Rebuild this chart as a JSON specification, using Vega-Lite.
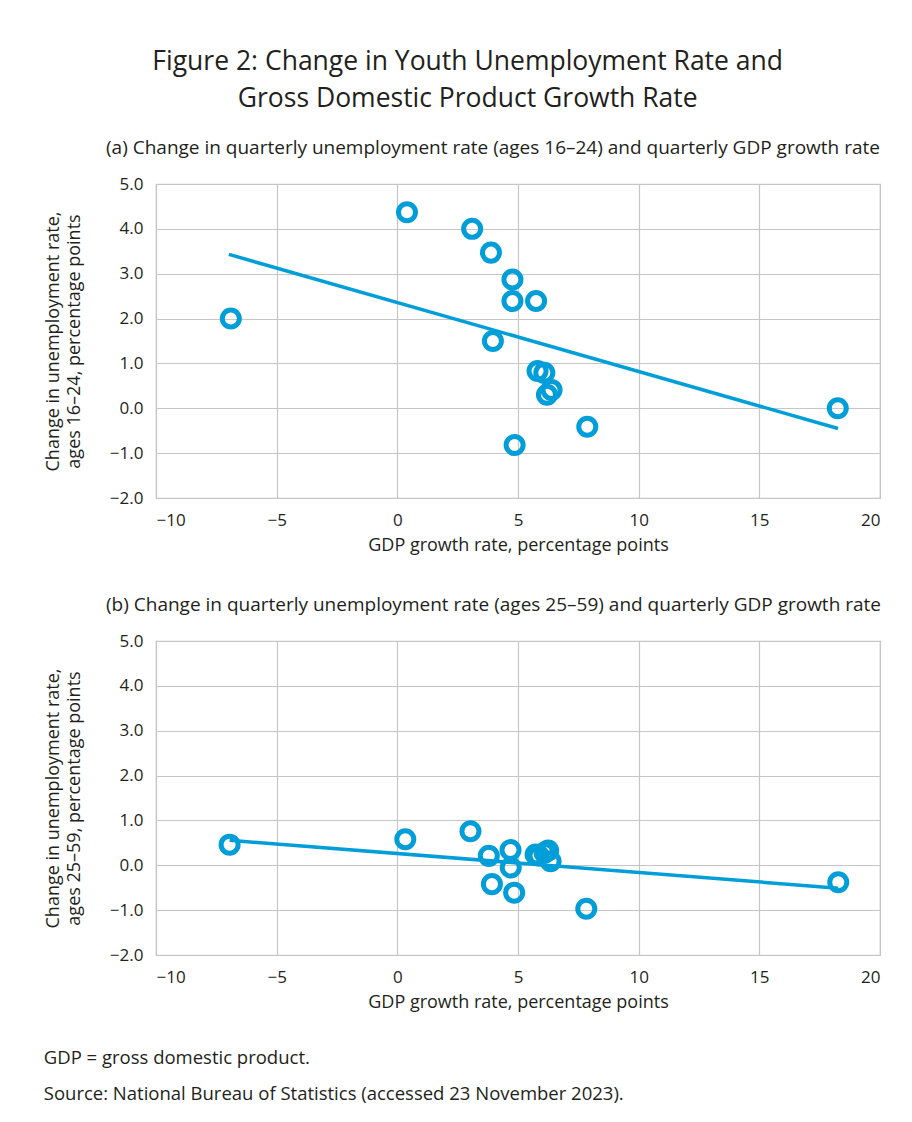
{
  "$schema": "https://vega.github.io/schema/vega-lite/v6.json",
  "padding": {"left": 43, "top": 48, "right": 10, "bottom": 10},
  "title": {
    "text": ["Figure 2: Change in Youth Unemployment Rate and", "Gross Domestic Product Growth Rate"],
    "fontSize": 26.5, "lineHeight": 37, "font": "Open Sans", "fontWeight": "normal",
    "anchor": "middle", "color": "#231F20", "offset": 26, "dx": 5
  },
  "datasets": {
    "youth": [
      {"gdp": -6.9, "chg": 2.0},
      {"gdp": 0.4, "chg": 4.37},
      {"gdp": 3.1, "chg": 4.0},
      {"gdp": 3.88, "chg": 3.47},
      {"gdp": 3.96, "chg": 1.5},
      {"gdp": 4.77, "chg": 2.87},
      {"gdp": 4.77, "chg": 2.39},
      {"gdp": 4.86, "chg": -0.82},
      {"gdp": 5.75, "chg": 2.39},
      {"gdp": 5.81, "chg": 0.83},
      {"gdp": 6.09, "chg": 0.79},
      {"gdp": 6.39, "chg": 0.41},
      {"gdp": 6.2, "chg": 0.3},
      {"gdp": 7.87, "chg": -0.41},
      {"gdp": 18.25, "chg": 0.0}
    ],
    "youthTrend": [
      {"gdp": -6.98, "chg": 3.43},
      {"gdp": 18.26, "chg": -0.45}
    ],
    "adult": [
      {"gdp": -6.95, "chg": 0.46},
      {"gdp": 0.33, "chg": 0.58},
      {"gdp": 3.03, "chg": 0.76},
      {"gdp": 3.79, "chg": 0.21},
      {"gdp": 3.92, "chg": -0.42},
      {"gdp": 4.69, "chg": 0.34},
      {"gdp": 4.7, "chg": -0.05},
      {"gdp": 4.84, "chg": -0.61},
      {"gdp": 5.73, "chg": 0.24},
      {"gdp": 5.85, "chg": 0.22},
      {"gdp": 6.1, "chg": 0.28},
      {"gdp": 6.35, "chg": 0.09},
      {"gdp": 6.25, "chg": 0.33},
      {"gdp": 7.83, "chg": -0.97},
      {"gdp": 18.27, "chg": -0.38}
    ],
    "adultTrend": [
      {"gdp": -6.95, "chg": 0.556},
      {"gdp": 18.27, "chg": -0.51}
    ]
  },
  "vconcat": [
    {
      "title": {
        "text": ["GDP = gross domestic product.", "Source: National Bureau of Statistics (accessed 23 November 2023)."],
        "orient": "bottom", "anchor": "start", "fontSize": 18.5, "lineHeight": 36,
        "font": "Open Sans", "fontWeight": "normal", "color": "#231F20", "offset": 37
      },
      "spacing": 40,
      "vconcat": [
        {
          "width": 724, "height": 314,
          "title": {
            "text": "(a) Change in quarterly unemployment rate (ages 16–24) and quarterly GDP growth rate",
            "anchor": "start", "frame": "group", "dx": -50, "fontSize": 19, "font": "Open Sans",
            "fontWeight": "normal", "color": "#231F20", "offset": 17
          },
          "layer": [
            {
              "data": {"name": "youthTrend"},
              "mark": {"type": "line", "color": "#009ED8", "strokeWidth": 3.5},
              "encoding": {
                "x": {"field": "gdp", "type": "quantitative"},
                "y": {"field": "chg", "type": "quantitative"}
              }
            },
            {
              "data": {"name": "youth"},
              "mark": {"type": "point", "shape": "circle", "filled": false, "stroke": "#009ED8", "strokeWidth": 5, "size": 290, "opacity": 1},
              "encoding": {
                "x": {
                  "field": "gdp", "type": "quantitative",
                  "scale": {"domain": [-10, 20], "nice": false, "zero": false},
                  "axis": {"values": [-10, -5, 0, 5, 10, 15, 20], "format": "d", "title": "GDP growth rate, percentage points"}
                },
                "y": {
                  "field": "chg", "type": "quantitative",
                  "scale": {"domain": [-2, 5], "nice": false, "zero": false},
                  "axis": {"values": [-2, -1, 0, 1, 2, 3, 4, 5], "format": ".1f", "title": ["Change in unemployment rate,", "ages 16–24, percentage points"]}
                }
              }
            }
          ]
        },
        {
          "width": 724, "height": 314,
          "title": {
            "text": "(b) Change in quarterly unemployment rate (ages 25–59) and quarterly GDP growth rate",
            "anchor": "start", "frame": "group", "dx": -50, "fontSize": 19, "font": "Open Sans",
            "fontWeight": "normal", "color": "#231F20", "offset": 17
          },
          "layer": [
            {
              "data": {"name": "adultTrend"},
              "mark": {"type": "line", "color": "#009ED8", "strokeWidth": 3.5},
              "encoding": {
                "x": {"field": "gdp", "type": "quantitative"},
                "y": {"field": "chg", "type": "quantitative"}
              }
            },
            {
              "data": {"name": "adult"},
              "mark": {"type": "point", "shape": "circle", "filled": false, "stroke": "#009ED8", "strokeWidth": 5, "size": 290, "opacity": 1},
              "encoding": {
                "x": {
                  "field": "gdp", "type": "quantitative",
                  "scale": {"domain": [-10, 20], "nice": false, "zero": false},
                  "axis": {"values": [-10, -5, 0, 5, 10, 15, 20], "format": "d", "title": "GDP growth rate, percentage points"}
                },
                "y": {
                  "field": "chg", "type": "quantitative",
                  "scale": {"domain": [-2, 5], "nice": false, "zero": false},
                  "axis": {"values": [-2, -1, 0, 1, 2, 3, 4, 5], "format": ".1f", "title": ["Change in unemployment rate,", "ages 25–59, percentage points"]}
                }
              }
            }
          ]
        }
      ]
    }
  ],
  "config": {
    "font": "Open Sans",
    "view": {"stroke": "#C6C6C6", "strokeWidth": 1.2},
    "axis": {
      "labelFont": "Open Sans", "labelFontSize": 17, "labelColor": "#231F20",
      "titleFont": "Open Sans", "titleFontSize": 18, "titleFontWeight": "normal", "titleColor": "#231F20",
      "titleLineHeight": 21,
      "grid": true, "gridColor": "#C6C6C6", "gridWidth": 1.2,
      "domain": false, "ticks": false
    },
    "axisX": {"titlePadding": 8, "labelPadding": 14},
    "axisY": {"titlePadding": 26, "labelPadding": 13}
  }
}
